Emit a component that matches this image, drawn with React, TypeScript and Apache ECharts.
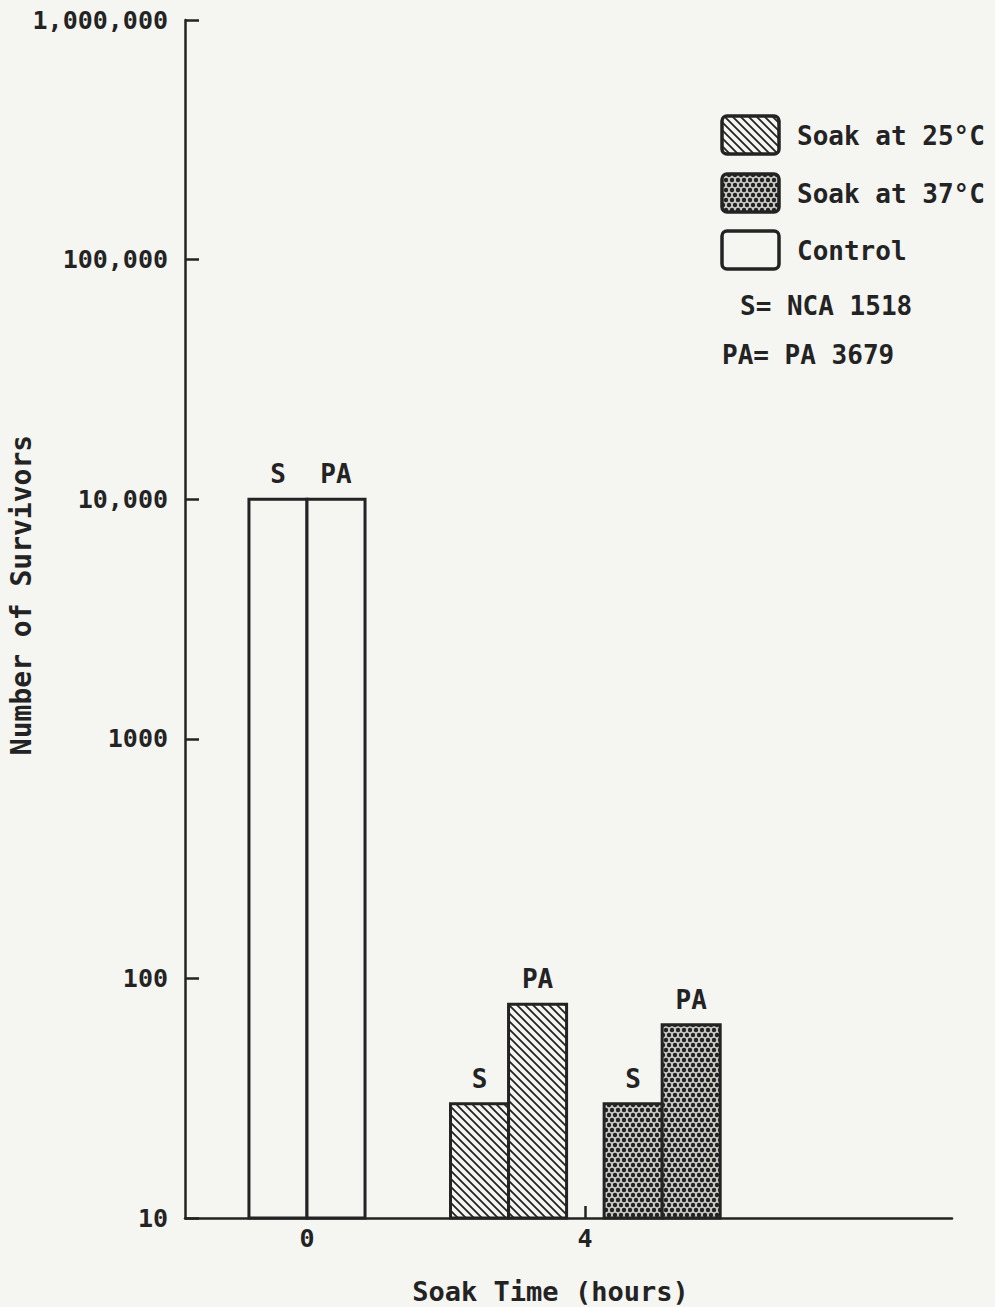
import React, { useEffect, useRef } from "react";
import * as echarts from "echarts";

// Survivor counts after soaking, per treatment and strain
const groupNames = ["Control", "Soak at 25°C", "Soak at 37°C"];
const soakHours = [0, 4, 4];
const strainLabels = ["S", "PA"];
const survivorsS = [10000, 30, 30];
const survivorsPA = [10000, 78, 64];
const yTickValues = [10, 100, 1000, 10000, 100000, 1000000];
const yTickLabels = ["10", "100", "1000", "10,000", "100,000", "1,000,000"];
const xTickValues = [0, 4];
const strainNotes = ["S= NCA 1518", "PA= PA 3679"];

// Layout of the bar pairs along the time axis (hours)
const groupShift = [0, -1.1, 1.11];
const barSpan = 0.835;

const ink = "#232323";
const paper = "#f5f5f2";
const FONT = "'DejaVu Sans Mono', monospace";

function hatchCanvas(): HTMLCanvasElement {
  const c = document.createElement("canvas");
  c.width = 8;
  c.height = 8;
  const ctx = c.getContext("2d")!;
  ctx.fillStyle = paper;
  ctx.fillRect(0, 0, 8, 8);
  ctx.strokeStyle = ink;
  ctx.lineWidth = 1.8;
  ctx.beginPath();
  ctx.moveTo(-2, -2);
  ctx.lineTo(10, 10);
  ctx.moveTo(-2, 6);
  ctx.lineTo(2, 10);
  ctx.moveTo(6, -2);
  ctx.lineTo(10, 2);
  ctx.stroke();
  return c;
}

function dotCanvas(): HTMLCanvasElement {
  const c = document.createElement("canvas");
  c.width = 6;
  c.height = 10;
  const ctx = c.getContext("2d")!;
  ctx.fillStyle = "#c9c9c6";
  ctx.fillRect(0, 0, 6, 10);
  ctx.fillStyle = ink;
  const pts = [
    [0, 0], [6, 0], [0, 10], [6, 10], [3, 5],
  ];
  for (const [x, y] of pts) {
    ctx.beginPath();
    ctx.arc(x, y, 2.2, 0, Math.PI * 2);
    ctx.fill();
  }
  return c;
}

export default function App() {
  const ref = useRef<HTMLDivElement>(null);

  useEffect(() => {
    document.body.style.margin = "0";
    const el = ref.current!;
    const chart = echarts.init(el, null, { renderer: "svg" });

    const fills: any[] = [
      paper,
      { image: hatchCanvas(), repeat: "repeat" },
      { image: dotCanvas(), repeat: "repeat" },
    ];

    const barData: number[][] = [];
    groupNames.forEach((_, g) => {
      const centre = soakHours[g] + groupShift[g];
      barData.push([centre - barSpan, centre, survivorsS[g], g, 0]);
      barData.push([centre, centre + barSpan, survivorsPA[g], g, 1]);
    });

    const legendTop = [116, 174, 231];
    const graphic: any[] = [];
    groupNames.forEach((name, i) => {
      const order = [2, 0, 1][i]; // 25°C, 37°C, then control
      graphic.push({
        type: "rect",
        shape: { x: 722, y: legendTop[order], width: 57, height: 38, r: 5 },
        style: { fill: fills[i], stroke: ink, lineWidth: 3.5 },
      });
      graphic.push({
        type: "text",
        x: 797,
        y: legendTop[order] + 20,
        style: {
          text: name,
          font: `bold 26px ${FONT}`,
          fill: ink,
          verticalAlign: "middle",
        },
      });
    });
    graphic.push({
      type: "text",
      x: 740,
      y: 306,
      style: { text: strainNotes[0], font: `bold 26px ${FONT}`, fill: ink, verticalAlign: "middle" },
    });
    graphic.push({
      type: "text",
      x: 722,
      y: 355,
      style: { text: strainNotes[1], font: `bold 26px ${FONT}`, fill: ink, verticalAlign: "middle" },
    });

    chart.setOption({
      animation: false,
      backgroundColor: paper,
      grid: {
        left: 185,
        right: 43,
        top: 20,
        bottom: 89,
        containLabel: false,
        outerBoundsMode: "none",
      },
      xAxis: {
        type: "value",
        min: -1.755,
        max: 9.28,
        name: "Soak Time (hours)",
        nameLocation: "middle",
        nameGap: 60,
        nameTextStyle: {
          fontFamily: FONT,
          fontWeight: "bold",
          fontSize: 27,
          color: ink,
          padding: [0, 36, 0, 0],
        },
        splitLine: { show: false },
        axisLine: { show: true, onZero: false, lineStyle: { color: ink, width: 2.5 } },
        axisTick: {
          show: true,
          inside: true,
          length: 12,
          customValues: xTickValues,
          lineStyle: { color: ink, width: 2.5 },
        },
        axisLabel: {
          customValues: xTickValues,
          margin: 8,
          fontFamily: FONT,
          fontWeight: "bold",
          fontSize: 25,
          color: ink,
        },
      },
      yAxis: {
        type: "log",
        logBase: 10,
        min: 10,
        max: 1000000,
        name: "Number of Survivors",
        nameLocation: "middle",
        nameGap: 150,
        nameMoveOverlap: false,
        nameRotate: 90,
        nameTextStyle: {
          fontFamily: FONT,
          fontWeight: "bold",
          fontSize: 28,
          color: ink,
          padding: [0, 0, 0, 48],
        },
        splitLine: { show: false },
        minorTick: { show: false },
        axisLine: { show: true, onZero: false, lineStyle: { color: ink, width: 2.5 } },
        axisTick: {
          show: true,
          inside: true,
          length: 14,
          lineStyle: { color: ink, width: 2.5 },
        },
        axisLabel: {
          margin: 17,
          fontFamily: FONT,
          fontWeight: "bold",
          fontSize: 25,
          color: ink,
          formatter: (v: number) => {
            const i = yTickValues.indexOf(Math.round(v));
            return i >= 0 ? yTickLabels[i] : "";
          },
        },
      },
      graphic,
      series: [
        {
          type: "custom",
          data: barData,
          encode: { x: [0, 1], y: 2 },
          renderItem: (params: any, api: any) => {
            const x0 = api.value(0);
            const x1 = api.value(1);
            const v = api.value(2);
            const g = api.value(3);
            const s = api.value(4);
            const tl = api.coord([x0, v]);
            const br = api.coord([x1, yTickValues[0]]);
            const w = br[0] - tl[0];
            const h = br[1] - tl[1];
            return {
              type: "group",
              children: [
                {
                  type: "rect",
                  shape: { x: tl[0], y: tl[1], width: w, height: h },
                  style: { fill: fills[g], stroke: ink, lineWidth: 3 },
                },
                {
                  type: "text",
                  style: {
                    text: strainLabels[s],
                    x: tl[0] + w / 2,
                    y: tl[1] - 12,
                    align: "center",
                    verticalAlign: "bottom",
                    font: `bold 26px ${FONT}`,
                    fill: ink,
                  },
                },
              ],
            };
          },
        },
      ],
    });

    return () => chart.dispose();
  }, []);

  return <div ref={ref} style={{ width: 995, height: 1307 }} />;
}
